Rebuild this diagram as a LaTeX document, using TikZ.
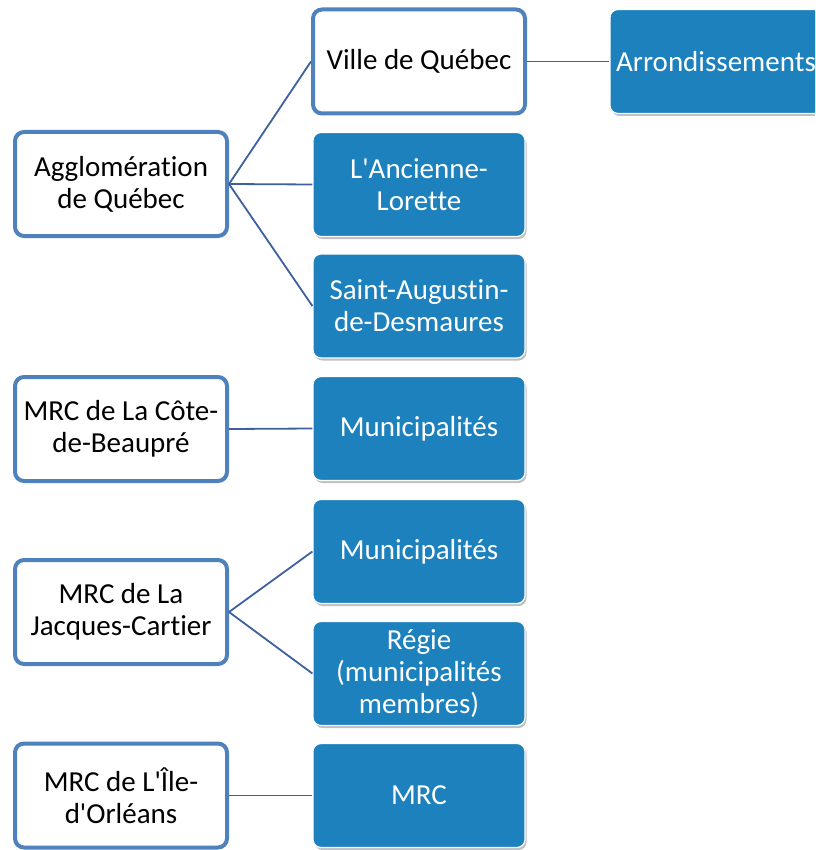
\documentclass[tikz,border=0pt]{standalone}
\usepackage{fontspec}
\setmainfont{Carlito}[Ligatures={TeXOff,NoCommon}]
\usetikzlibrary{shadows}
\definecolor{framecol}{RGB}{79,129,189}
\definecolor{fillcol}{RGB}{28,129,189}
\definecolor{linkcol}{RGB}{62,96,158}
\begin{document}
\begin{tikzpicture}[x=1pt,y=-1pt,
  every node/.style={font=\fontsize{29}{32}\selectfont, align=center,
    minimum width=212pt, inner sep=2pt},
  outlinebox/.style={draw=framecol, line width=4pt, fill=white,
    rounded corners=9pt, minimum height=104pt, text=black},
  solidbox/.style={draw=white, line width=1.2pt, fill=fillcol,
    rounded corners=8pt, minimum height=104pt, text=white,
    drop shadow={shadow xshift=1.5pt, shadow yshift=-2.5pt,
      fill=black, opacity=0.25}},
  link/.style={draw=linkcol, line width=1.8pt}]
\useasboundingbox (0,0) rectangle (815,850);
\clip (0,0) rectangle (815,850);

% top-level bodies
\node[outlinebox] (agglo) at (121,184) {Agglomération\\de Québec};
\node[outlinebox] (cote) at (121,429) {MRC de La Côte-\\de-Beaupré};
\node[outlinebox] (jacques) at (121,612) {MRC de La\\Jacques-Cartier};
\node[outlinebox] (ile) at (121,795.5) {MRC de L'Île-\\d'Orléans};

% second level
\node[outlinebox] (ville) at (419,61.5) {Ville de Québec};
\node[solidbox] (lorette) at (419,184.5) {L'Ancienne-\\Lorette};
\node[solidbox] (augustin) at (419,306) {Saint-Augustin-\\de-Desmaures};
\node[solidbox] (muni1) at (419,428.5) {Municipalités};
\node[solidbox] (muni2) at (419,551.5) {Municipalités};
\node[solidbox] (regie) at (419,673.5) {Régie\\(municipalités\\membres)};
\node[solidbox] (mrc) at (419,795.5) {MRC};

% third level
\node[solidbox] (arr) at (716,61.5) {Arrondissements};

% connectors
\path[link] (agglo.east) -- (ville.west);
\path[link] (agglo.east) -- (lorette.west);
\path[link] (agglo.east) -- (augustin.west);
\path[link] (ville.east) -- (arr.west);
\path[link] (cote.east) -- (muni1.west);
\path[link] (jacques.east) -- (muni2.west);
\path[link] (jacques.east) -- (regie.west);
\path[link] (ile.east) -- (mrc.west);
\end{tikzpicture}
\end{document}
